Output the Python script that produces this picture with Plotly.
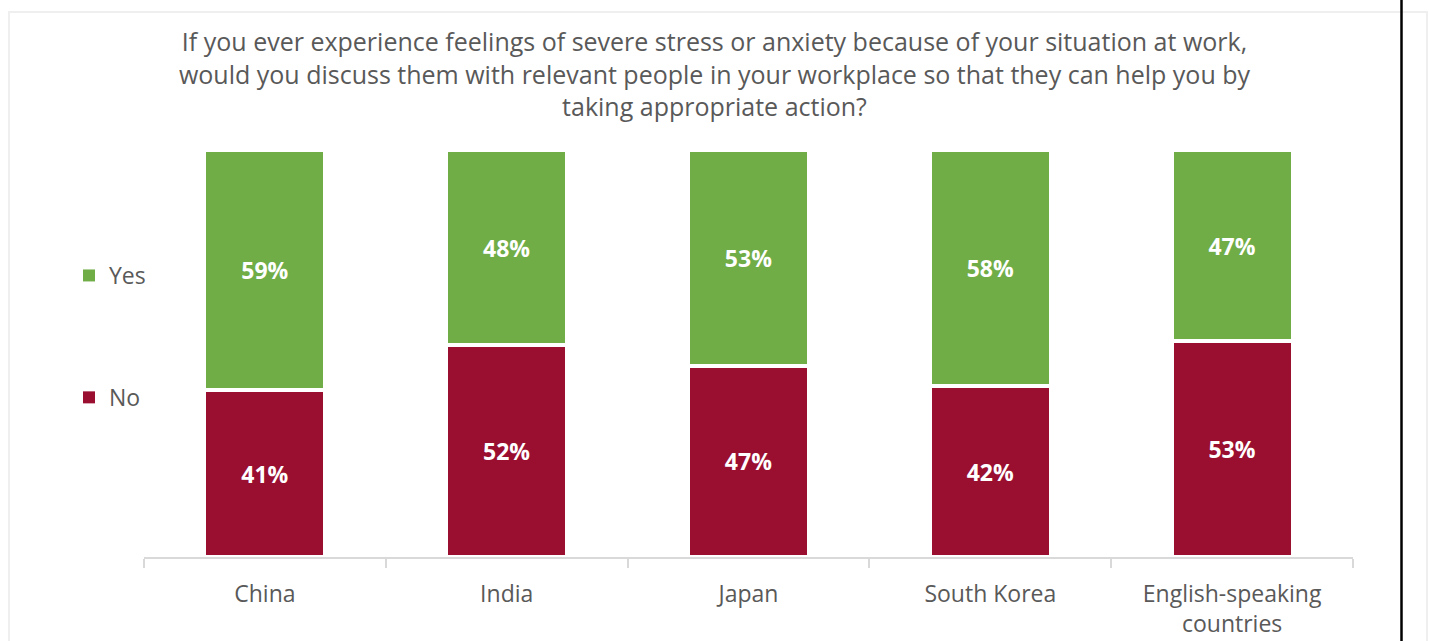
import plotly.graph_objects as go

categories = ["China", "India", "Japan", "South Korea", "English-speaking<br>countries"]
no_values = [41, 52, 47, 42, 53]
yes_values = [59, 48, 53, 58, 47]
title_text = ("If you ever experience feelings of severe stress or anxiety because of your situation at work,<br>"
              "would you discuss them with relevant people in your workplace so that they can help you by<br>"
              "taking appropriate action?")

GREEN = "#70AD47"
RED = "#9A0E30"
GRAY = "#595959"
FONT = "Open Sans"

W, H = 1429, 641
ML, MR, MT, MB = 144, 76, 150, 84
PW, PH = W - ML - MR, H - MT - MB


def px(x):
    return (x - ML) / PW


def py(y):
    return (H - MB - y) / PH


label_font = dict(color="white", size=23, family=FONT, weight="bold")

fig = go.Figure()
fig.add_trace(go.Bar(
    x=categories, y=no_values, name="No", legendgroup="no", showlegend=False,
    marker=dict(color=RED, line=dict(color="white", width=4)),
    text=[f"{v}%" for v in no_values], textposition="inside", insidetextanchor="middle",
    textfont=label_font, constraintext="none", hoverinfo="skip",
))
fig.add_trace(go.Bar(
    x=categories, y=yes_values, name="Yes", legendgroup="yes", showlegend=False,
    marker=dict(color=GREEN, line=dict(color="white", width=4)),
    text=[f"{v}%" for v in yes_values], textposition="inside", insidetextanchor="middle",
    textfont=label_font, constraintext="none", hoverinfo="skip",
))
# legend entries (no white outline so the swatches are full squares)
fig.add_trace(go.Bar(x=[None], y=[None], name="Yes", legendgroup="yes",
                     marker=dict(color=GREEN, line=dict(width=0)), hoverinfo="skip"))
fig.add_trace(go.Bar(x=[None], y=[None], name="No", legendgroup="no",
                     marker=dict(color=RED, line=dict(width=0)), hoverinfo="skip"))

fig.update_layout(
    width=W, height=H,
    margin=dict(l=ML, r=MR, t=MT, b=MB),
    barmode="stack", bargap=0.5,
    plot_bgcolor="white", paper_bgcolor="white",
    font=dict(family=FONT, size=23, color=GRAY),
    title=dict(text=title_text, x=0.5, xref="container", xanchor="center",
               y=1 - 51 / H, yref="container", yanchor="top",
               font=dict(family=FONT, size=25, color=GRAY)),
    legend=dict(traceorder="grouped", tracegroupgap=89,
                xref="paper", yref="paper", x=px(69), xanchor="left",
                y=py(254), yanchor="top", font=dict(size=23, color=GRAY),
                bgcolor="rgba(0,0,0,0)"),
    xaxis=dict(showline=True, linecolor="#D9D9D9", linewidth=1.5,
               ticks="outside", tickson="boundaries", ticklen=9, tickcolor="#D9D9D9", tickwidth=1.5,
               ticklabelstandoff=16, automargin=False,
               tickfont=dict(size=23, color=GRAY), showgrid=False, fixedrange=True),
    yaxis=dict(range=[0, 100], visible=False, showgrid=False, fixedrange=True),
    shapes=[
        dict(type="rect", xref="paper", yref="paper",
             x0=px(9), x1=px(1427), y0=py(12), y1=py(700),
             line=dict(color="#EFEFEF", width=2), fillcolor="rgba(0,0,0,0)", layer="below"),
        dict(type="line", xref="paper", yref="paper",
             x0=px(1401.5), x1=px(1401.5), y0=py(-5), y1=py(700),
             line=dict(color="black", width=2.5), layer="above"),
    ],
)

fig.write_html("out.html")
